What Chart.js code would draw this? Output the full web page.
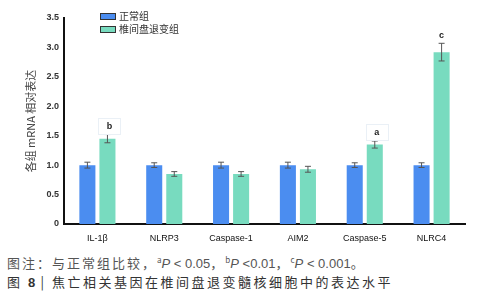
<!DOCTYPE html>
<html><head><meta charset="utf-8">
<script src="https://cdn.jsdelivr.net/npm/chart.js@4"></script>
<style>
body{margin:0;background:#fff;width:490px;height:300px;overflow:hidden;font-family:"Noto Sans CJK SC","Noto Sans",sans-serif;}
#wrap{position:absolute;left:0;top:0;width:490px;height:250px;}
.cap{position:absolute;left:7px;font-size:13px;letter-spacing:2px;white-space:nowrap;line-height:16px;}
#c1{top:252px;color:#555;}
#c2{top:274px;color:#333;letter-spacing:2.5px;}
sup{font-size:8px;vertical-align:5px;letter-spacing:0}
i{font-family:"Liberation Sans",sans-serif;letter-spacing:0}
.num{font-family:"Liberation Sans",sans-serif;letter-spacing:0}
</style></head><body>
<div id="wrap"><canvas id="ch" width="490" height="250"></canvas></div>
<div class="cap" id="c1">图注：与正常组比较，<sup>a</sup><i>P</i><span class="num"> &lt; 0.05</span>，<sup>b</sup><i>P</i><span class="num"> &lt;0.01</span>，<sup>c</sup><i>P</i><span class="num"> &lt; 0.001</span>。</div>
<div class="cap" id="c2">图 <b class="num">8</b> | 焦亡相关基因在椎间盘退变髓核细胞中的表达水平</div>
<script>
const categories = ['IL-1β','NLRP3','Caspase-1','AIM2','Caspase-5','NLRC4'];
const seriesNames = ['正常组','椎间盘退变组'];
const normalValues = [1.00,1.00,1.00,1.00,1.00,1.00];
const normalErrors = [0.05,0.04,0.05,0.05,0.04,0.04];
const ivddValues = [1.45,0.85,0.85,0.93,1.35,2.92];
const ivddErrors = [0.07,0.04,0.04,0.05,0.06,0.15];
const sigLabels = ['b','','','','a','c'];
const yTicks = [0,0.5,1.0,1.5,2.0,2.5,3.0,3.5];

const colors = ['#4b8df0','#78dbbf'];
const errs = [normalErrors, ivddErrors];

const errorPlugin = {
  id:'err',
  afterDatasetsDraw(chart){
    const ctx = chart.ctx, y = chart.scales.y;
    chart.data.datasets.forEach((ds,di)=>{
      const meta = chart.getDatasetMeta(di);
      meta.data.forEach((bar,i)=>{
        const v = ds.data[i], e = errs[di][i];
        const x = bar.x;
        const yt = y.getPixelForValue(v+e), yb = y.getPixelForValue(v-e);
        ctx.save();
        ctx.strokeStyle = '#555'; ctx.lineWidth = 1;
        ctx.beginPath();
        ctx.moveTo(x,yt); ctx.lineTo(x,yb);
        ctx.moveTo(x-3,yt); ctx.lineTo(x+3,yt);
        ctx.moveTo(x-3,yb); ctx.lineTo(x+3,yb);
        ctx.stroke();
        if(di===1 && sigLabels[i]){
          const ly = yt - 8;
          if(sigLabels[i] !== 'c'){
            ctx.strokeStyle = '#eaf0f6';
            ctx.strokeRect(Math.round(x-9)+0.5, Math.round(ly-9)+0.5, 22, 16);
          }
          ctx.fillStyle = '#222';
          ctx.font = 'bold 9px "Liberation Sans", sans-serif';
          ctx.textAlign = 'center'; ctx.textBaseline = 'middle';
          ctx.fillText(sigLabels[i], x+ (sigLabels[i]==='c'?0:2), ly);
        }
        ctx.restore();
      });
    });
  }
};

const legendPlugin = {
  id:'lg',
  afterDraw(chart){
    const ctx = chart.ctx;
    chart.data.datasets.forEach((ds,di)=>{
      const x = 100, yy = 13 + di*13;
      ctx.save();
      ctx.fillStyle = ds.backgroundColor;
      ctx.fillRect(x, yy, 15, 6);
      ctx.strokeStyle = '#333'; ctx.lineWidth = 1;
      ctx.strokeRect(x+0.5, yy+0.5, 15, 6);
      ctx.fillStyle = '#333';
      ctx.font = '10px "Noto Sans CJK SC", sans-serif';
      ctx.textBaseline = 'middle';
      ctx.fillText(ds.label, x+19, yy+3.5);
      ctx.restore();
    });
  }
};

new Chart(document.getElementById('ch'), {
  type:'bar',
  data:{
    labels: categories,
    datasets:[
      {label: seriesNames[0], data: normalValues, backgroundColor: colors[0]},
      {label: seriesNames[1], data: ivddValues, backgroundColor: colors[1]}
    ]
  },
  options:{
    responsive:false, animation:false,
    devicePixelRatio:1,
    layout:{padding:{top:18,right:25,left:24,bottom:0}},
    datasets:{bar:{categoryPercentage:0.6, barPercentage:0.8}},
    plugins:{legend:{display:false}, tooltip:{enabled:false}},
    scales:{
      x:{
        grid:{display:false, drawTicks:false},
        border:{color:'#111', width:2},
        ticks:{color:'#111', font:{size:9, family:'"Liberation Sans", sans-serif'}, padding:9},
        afterFit(s){ s.height = 26; }
      },
      y:{
        min:0, max:3.5,
        afterBuildTicks(s){ s.ticks = yTicks.map(v=>({value:v})); },
        grid:{display:false, drawTicks:true, tickLength:3, tickColor:'#111'},
        border:{color:'#111', width:2},
        ticks:{color:'#333', font:{size:9, weight:'bold', family:'"Liberation Sans", sans-serif'}, padding:2,
          callback:(v)=> v===0 ? '0' : Number(v).toFixed(1)},
        title:{display:true, text:'各组 mRNA 相对表达', color:'#444', font:{size:11, family:'"Noto Sans CJK SC", sans-serif'}, padding:{top:0,bottom:4}},
        afterFit(s){ s.width = 40; }
      }
    }
  },
  plugins:[errorPlugin, legendPlugin]
});
</script>
</body></html>
